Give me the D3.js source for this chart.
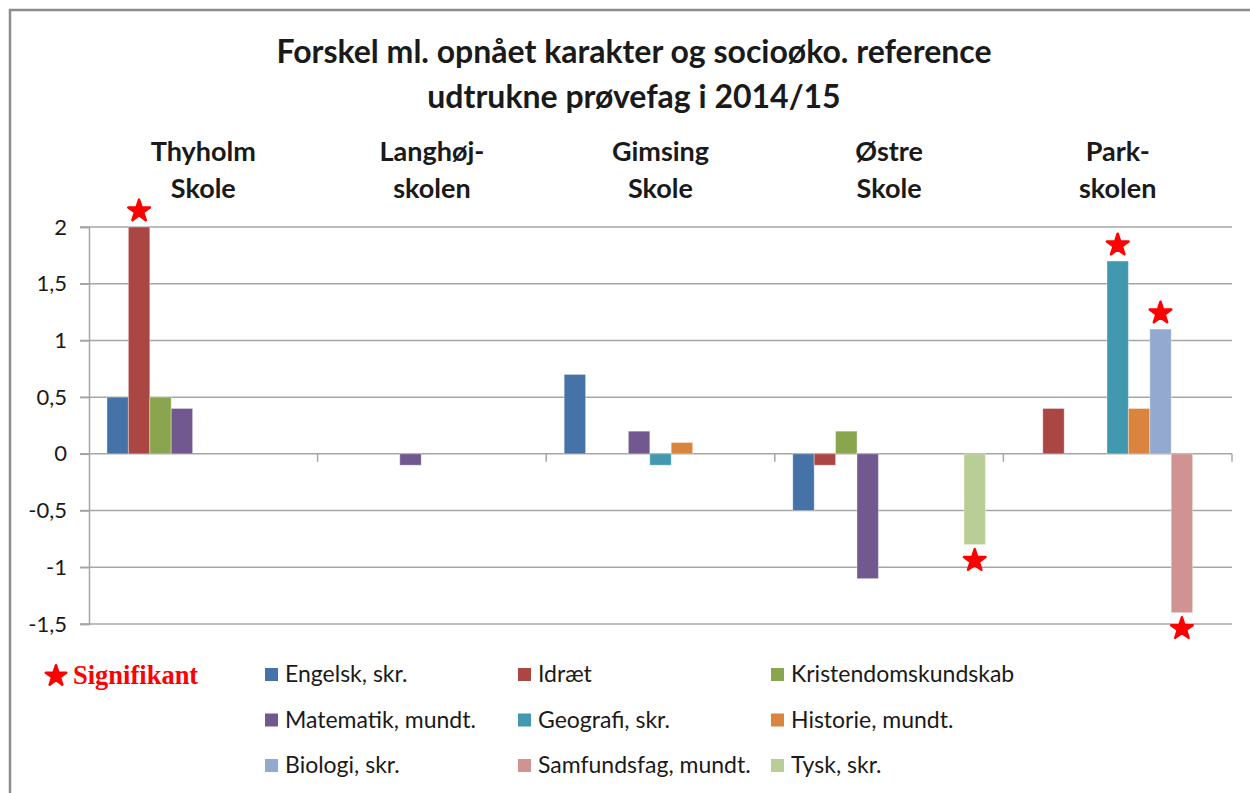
<!DOCTYPE html>
<html>
<head>
<meta charset="utf-8">
<script src="https://cdn.jsdelivr.net/npm/d3@7"></script>
<style>
  body { margin: 0; background: #fff; }
  text { font-family: Lato, "Open Sans", sans-serif; fill: #1a1a1a; }
</style>
</head>
<body>
<div id="chart"></div>
<script>
// Forskel ml. opnået karakter og socioøko. reference (2014/15)

const width = 1250;
const height = 793;
const margin = {left: 89, right: 18, top: 227, bottom: 169};

// schools (categories), two lines each as in the original
const schools = ["Thyholm Skole", "Langhøj-skolen", "Gimsing Skole", "Østre Skole", "Park-skolen"];
const schoolLines = [["Thyholm", "Skole"], ["Langhøj-", "skolen"], ["Gimsing", "Skole"], ["Østre", "Skole"], ["Park-", "skolen"]];

// subjects (series) and their colours
const subjects = ["Engelsk, skr.", "Idræt", "Kristendomskundskab",
                  "Matematik, mundt.", "Geografi, skr.", "Historie, mundt.",
                  "Biologi, skr.", "Samfundsfag, mundt.", "Tysk, skr."];
const colors = ["#4572A7", "#AA4643", "#89A54E", "#71588F", "#4198AF",
                "#DB843D", "#93A9CF", "#D19392", "#B9CD96"];

// values per subject, one per school (null = not drawn)
const engelsk     = [0.5, null, 0.7, -0.5, null];
const idraet      = [2.0, null, null, -0.1, 0.4];
const kristendom  = [0.5, null, null, 0.2, null];
const matematik   = [0.4, -0.1, 0.2, -1.1, null];
const geografi    = [null, null, -0.1, null, 1.7];
const historie    = [null, null, 0.1, null, 0.4];
const biologi     = [null, null, null, null, 1.1];
const samfundsfag = [null, null, null, null, -1.4];
const tysk        = [null, null, null, -0.8, null];
const seriesValues = [engelsk, idraet, kristendom, matematik, geografi, historie, biologi, samfundsfag, tysk];

// significant results: [school index, subject index]
const significant = [[0, 1], [3, 8], [4, 4], [4, 6], [4, 7]];

const yTicks = [-1.5, -1, -0.5, 0, 0.5, 1, 1.5, 2];

// flatten to one record per bar
const bars = [];
seriesValues.forEach((vals, s) => {
  vals.forEach((v, c) => {
    if (v !== null) bars.push({school: schools[c], subject: subjects[s], value: v, s: s});
  });
});

const svg = d3.select("#chart")
  .append("svg")
  .attr("width", width)
  .attr("height", height);

// outer chart frame (only left and top edges are visible in the crop)
svg.append("path")
  .attr("d", `M10,${height} L10,10 L${width},10`)
  .attr("fill", "none")
  .attr("stroke", "#8c8c8c")
  .attr("stroke-width", 2.5);

// scales
const x0 = d3.scaleBand()
  .domain(schools)
  .range([margin.left, width - margin.right])
  .paddingInner(0)
  .paddingOuter(0);

const x1 = d3.scaleBand()
  .domain(subjects)
  .range([0, x0.bandwidth()])
  .paddingInner(0)
  .paddingOuter(0.84);

const y = d3.scaleLinear()
  .domain([-1.5, 2])
  .range([height - margin.bottom, margin.top]);

// gridlines
svg.append("g")
  .selectAll("line")
  .data(yTicks)
  .join("line")
    .attr("x1", margin.left - 9)
    .attr("x2", width - margin.right)
    .attr("y1", d => y(d))
    .attr("y2", d => y(d))
    .attr("stroke", "#a6a6a6")
    .attr("stroke-width", 1.5);

// y axis
const yAxis = svg.append("g")
  .attr("transform", `translate(${margin.left},0)`)
  .call(d3.axisLeft(y)
          .tickValues(yTicks)
          .tickSize(9)
          .tickPadding(13)
          .tickFormat(d => String(d).replace(".", ",")));
yAxis.select(".domain").attr("stroke", "#a6a6a6").attr("stroke-width", 1.5);
yAxis.selectAll(".tick line").attr("stroke", "#a6a6a6").attr("stroke-width", 1.5);
yAxis.selectAll(".tick text")
  .attr("font-size", "22px")
  .attr("fill", "#1a1a1a")
  .style("font-family", "Lato, sans-serif");

// category ticks hanging below the zero line
svg.append("g")
  .selectAll("line")
  .data(schools)
  .join("line")
    .attr("x1", d => x0(d) + x0.bandwidth())
    .attr("x2", d => x0(d) + x0.bandwidth())
    .attr("y1", y(0))
    .attr("y2", y(0) + 8)
    .attr("stroke", "#a6a6a6")
    .attr("stroke-width", 1.5);

// bars
svg.append("g")
  .selectAll("rect")
  .data(bars)
  .join("rect")
    .attr("x", d => x0(d.school) + x1(d.subject))
    .attr("y", d => y(Math.max(0, d.value)))
    .attr("width", x1.bandwidth())
    .attr("height", d => Math.abs(y(d.value) - y(0)))
    .attr("fill", d => colors[d.s])
    .attr("stroke", "rgba(255,255,255,0.35)")
    .attr("stroke-width", 1);

// stars for significant results
const star = d3.symbol().type(d3.symbolStar).size(145);
const starOffset = 16;
svg.append("g")
  .selectAll("path")
  .data(significant)
  .join("path")
    .attr("d", star)
    .attr("transform", ([c, s]) => {
      const v = seriesValues[s][c];
      const cx = x0(schools[c]) + x1(subjects[s]) + x1.bandwidth() / 2;
      const cy = v >= 0 ? y(v) - starOffset : y(v) + starOffset;
      return `translate(${cx},${cy})`;
    })
    .attr("fill", "#ff0000")
    .attr("stroke", "#ff0000")
    .attr("stroke-width", 2.5)
    .attr("stroke-linejoin", "round");

// title
const title = svg.append("text")
  .attr("text-anchor", "middle")
  .attr("font-size", "32px")
  .attr("font-weight", "bold");
title.append("tspan").attr("x", 634).attr("y", 63).text("Forskel ml. opnået karakter og socioøko. reference");
title.append("tspan").attr("x", 634).attr("y", 108).text("udtrukne prøvefag i 2014/15");

// school names above the plot
const schoolLabels = svg.append("g")
  .selectAll("text")
  .data(schools)
  .join("text")
    .attr("text-anchor", "middle")
    .attr("font-size", "27px")
    .attr("font-weight", "bold");
schoolLabels.each(function(d, i) {
  const t = d3.select(this);
  const cx = x0(d) + x0.bandwidth() / 2;
  t.append("tspan").attr("x", cx).attr("y", 161).text(schoolLines[i][0]);
  t.append("tspan").attr("x", cx).attr("y", 198).text(schoolLines[i][1]);
});

// legend: "Signifikant" marker
svg.append("path")
  .attr("d", d3.symbol().type(d3.symbolStar).size(130)())
  .attr("transform", "translate(56,676)")
  .attr("fill", "#ff0000")
  .attr("stroke", "#ff0000")
  .attr("stroke-width", 2.5)
  .attr("stroke-linejoin", "round");
svg.append("text")
  .attr("x", 73)
  .attr("y", 684)
  .attr("font-size", "26.5px")
  .attr("font-weight", "bold")
  .style("font-family", "'Liberation Serif', serif")
  .style("fill", "#ff0000")
  .text("Signifikant");

// legend: subjects in 3 columns
const legend = svg.append("g")
  .selectAll("g")
  .data(subjects)
  .join("g")
    .attr("transform", (d, i) => `translate(${265 + (i % 3) * 253},${668 + Math.floor(i / 3) * 45.5})`);
legend.append("rect")
  .attr("width", 13)
  .attr("height", 13)
  .attr("fill", (d, i) => colors[i]);
legend.append("text")
  .attr("x", 20)
  .attr("y", 14)
  .attr("font-size", "23px")
  .text(d => d);
</script>
</body>
</html>
